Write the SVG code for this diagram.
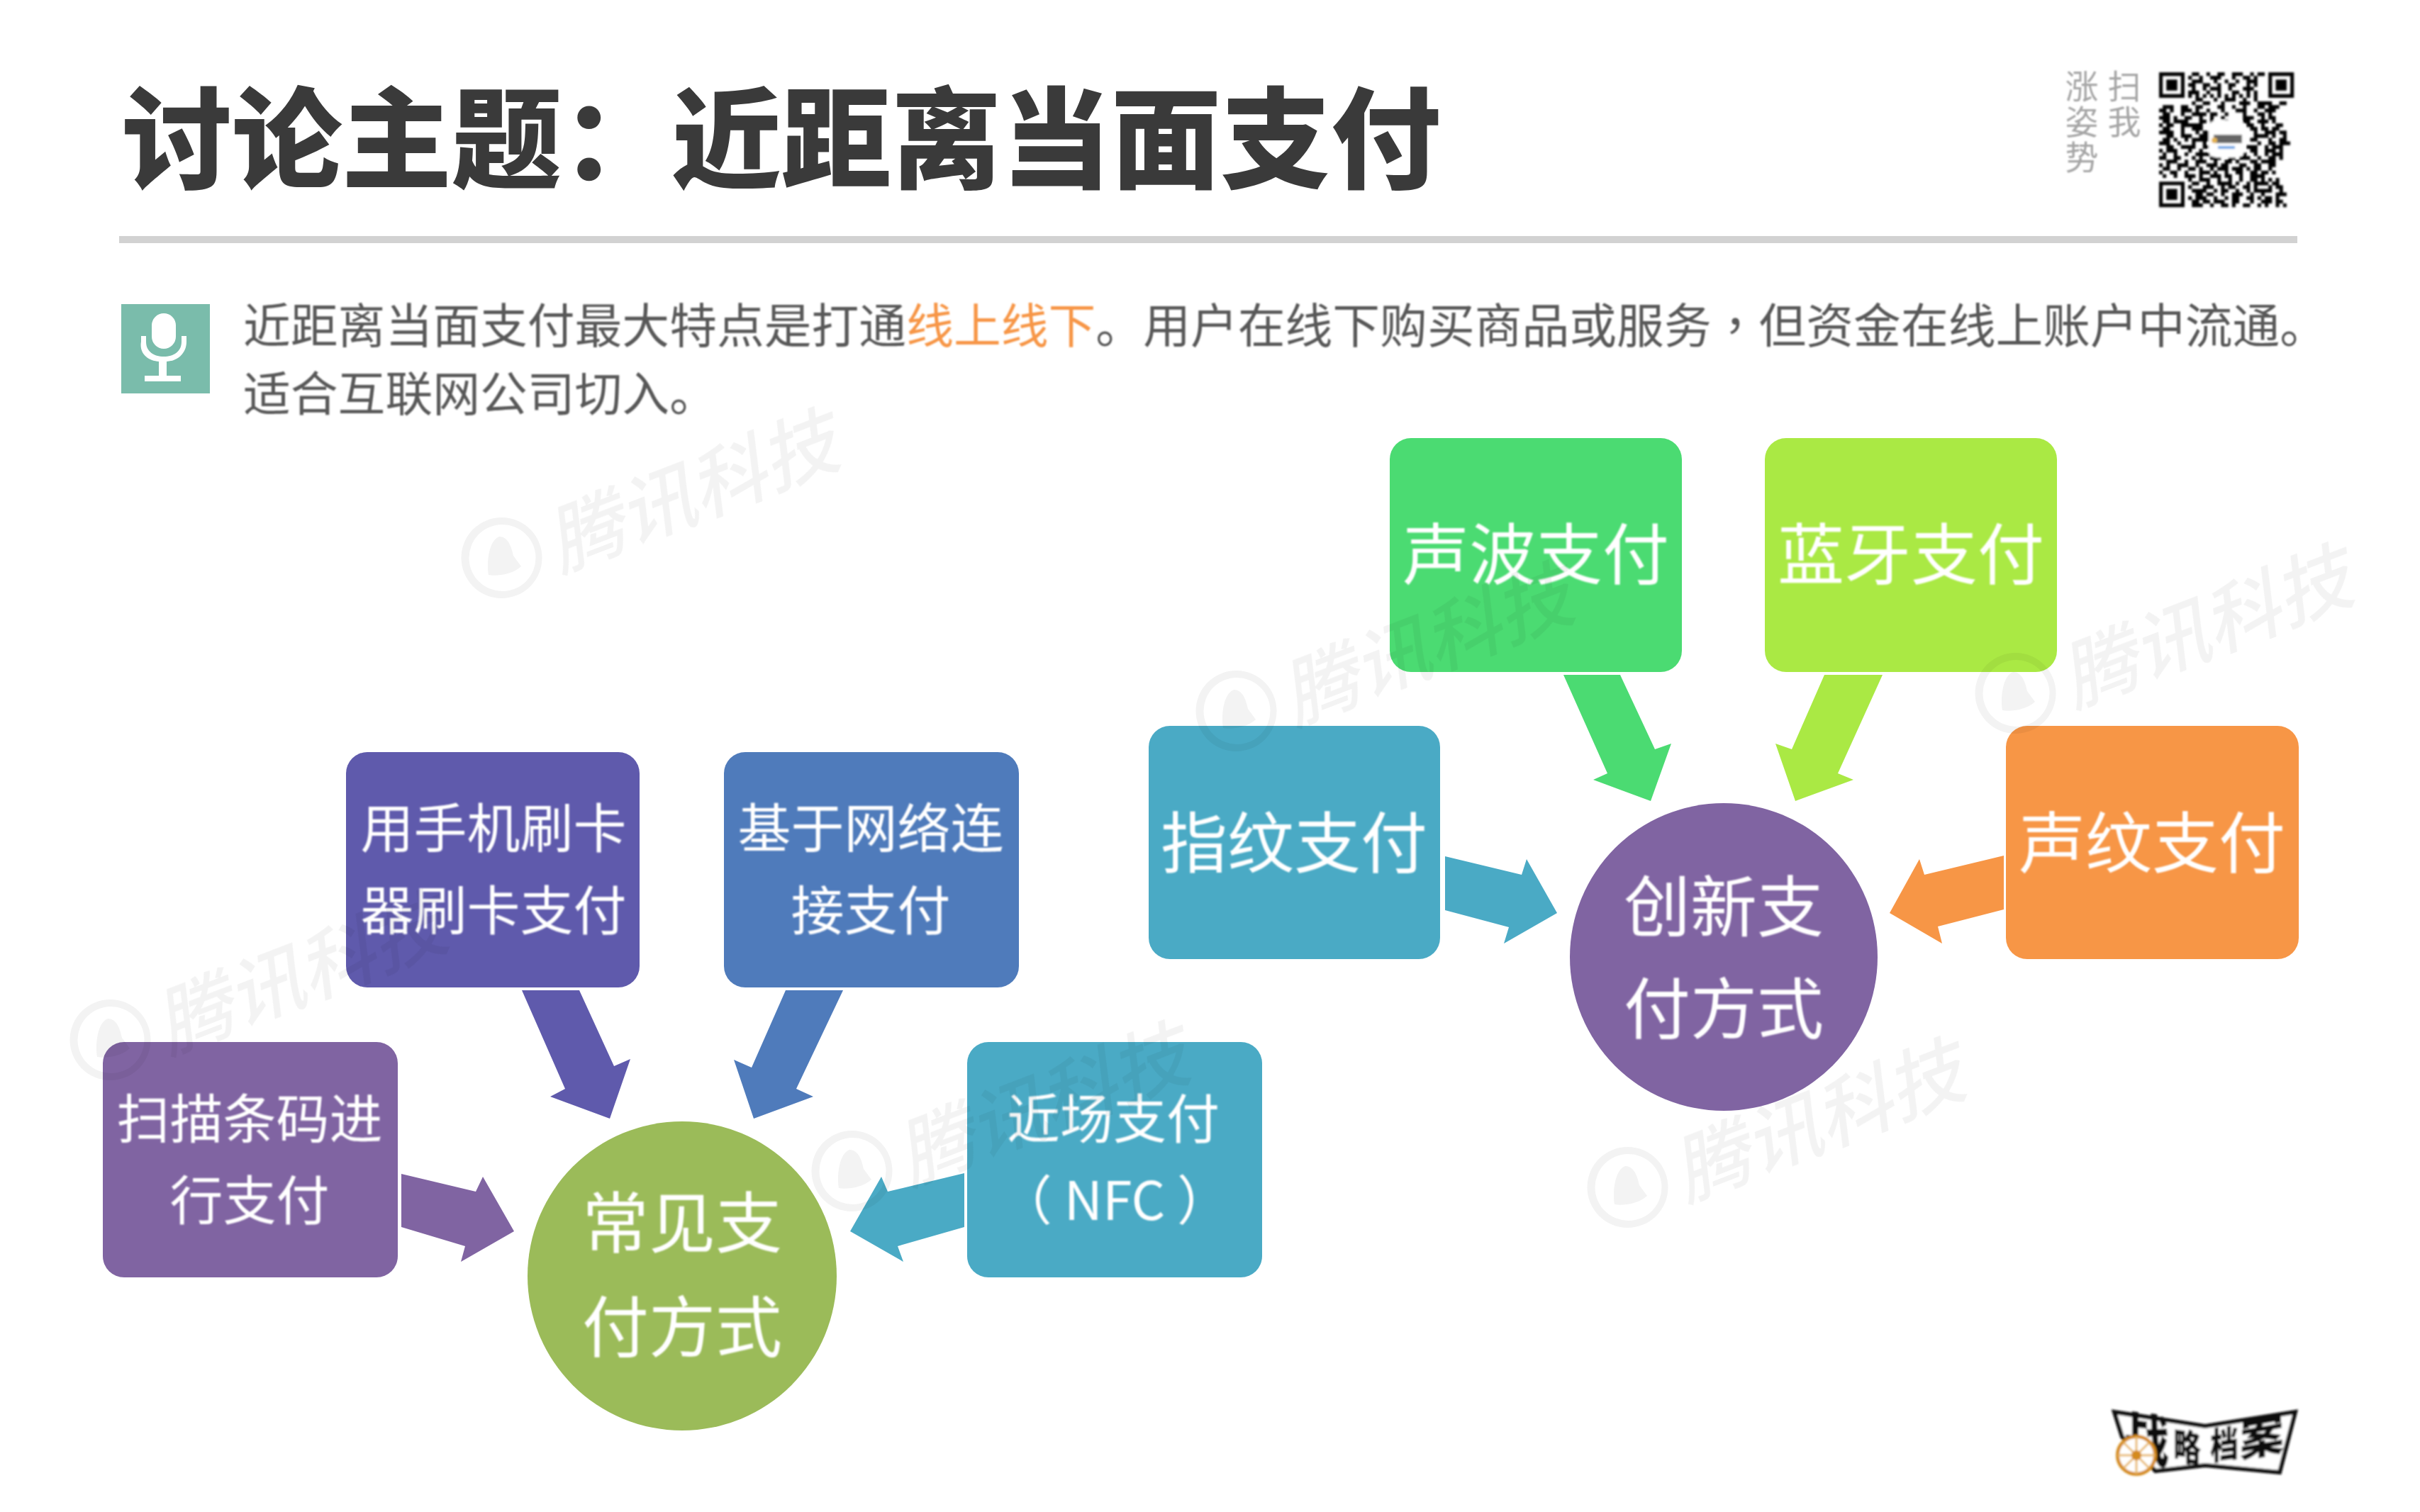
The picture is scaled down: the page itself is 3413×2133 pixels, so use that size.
<svg xmlns="http://www.w3.org/2000/svg" width="3413" height="2133" viewBox="0 0 3413 2133">
<defs>
<style>
text{font-family:"Noto Sans CJK SC","Noto Sans",sans-serif}
.t{fill:#fff;text-anchor:middle;font-size:75px;filter:url(#b)}
.l{fill:#fff;text-anchor:middle;font-size:94px;filter:url(#b)}
.wm{fill:#000;font-size:107px;font-style:italic;font-weight:500}
.body{fill:#595959;font-size:66.8px;filter:url(#b)}
.scan{fill:#a6a6a6;font-size:47px;writing-mode:vertical-rl;letter-spacing:3px;filter:url(#b)}
.logo{fill:#111;font-weight:900}
</style>
<filter id="b" x="-5%" y="-10%" width="110%" height="120%"><feGaussianBlur stdDeviation="0.9"/></filter>
<filter id="q" x="-5%" y="-5%" width="110%" height="110%"><feGaussianBlur stdDeviation="1.4"/></filter>
<g id="wmk">
<path fill-rule="evenodd" d="M0-57A57 57 0 1 1-1 57A57 57 0 1 1 0-57ZM0-47A47 47 0 1 0 1 47A47 47 0 1 0 0-47Z"/>
<path d="M-4-30C10-30 14-12 16-3L27 12C14 24-8 26-19 24C-22 4-18-25-4-30Z"/>
<text class="wm" transform="translate(82 20) rotate(-21)">腾讯科技</text>
</g>
</defs>
<rect width="3413" height="2133" fill="#fff"/>

<g id="title"><text x="172" y="253" font-size="155" font-weight="900" fill="#3a3a3a">讨论主题：近距离当面支付</text></g>
<rect id="rule" x="168" y="333" width="3072" height="10" fill="#d2d2d2"/>

<g id="scan-text">
<text class="scan" x="2936" y="98">涨姿势</text>
<text class="scan" x="2996" y="98">扫我</text>
</g>

<g id="qr" filter="url(#q)">
<g transform="translate(3045 102) scale(5.14)">
<path fill="#000" fill-rule="evenodd" d="M0 0h7v7H0ZM1 1v5h5V1ZM2 2h3v3H2ZM30 0h7v7h-7ZM31 1v5h5V1ZM32 2h3v3h-3ZM0 30h7v7H0ZM1 31v5h5v-5ZM2 32h3v3H2Z"/>
<path stroke="#000" stroke-width="1.02" fill="none" d="M9 .5h2m2 0h1m2 0h2m2 0h3m2 0h1m1 0h2M8 1.5h1m2 0h1m2 0h3m3 0h1m2 0h2m1 0h1M9 2.5h3m3 0h1m2 0h1m2 0h1m2 0h3M8 3.5h2m2 0h2m2 0h1m2 0h2m3 0h1m1 0h1M9 4.5h1m2 0h1m1 0h3m2 0h1m3 0h3M8 5.5h3m2 0h1m2 0h1m3 0h2m2 0h1m1 0h1M8 6.5h1m1 0h1m1 0h1m1 0h1m1 0h1m1 0h1m1 0h1m1 0h1m1 0h1m1 0h1M10 7.5h2m3 0h1m2 0h3m2 0h1m2 0h1M9 8.5h1m2 0h2m3 0h1m4 0h3m2 0h4m2 0h2M1 9.5h3m2 0h2m2 0h2m4 0h2m2 0h1m2 0h1m3 0h2m1 0h3M0 10.5h2m1 0h1m2 0h3m1 0h1m2 0h1m3 0h1m3 0h3m2 0h1m2 0h3M1 11.5h2m3 0h1m2 0h4m1 0h2m2 0h1m4 0h1m3 0h2m1 0h1M0 12.5h3m1 0h1m2 0h2m2 0h1m2 0h1m2 0h1m5 0h3m2 0h1m1 0h2M1 13.5h2m1 0h4m3 0h2m1 0h1m3 0h1m4 0h2m2 0h3m1 0h1M0 14.5h1m1 0h2m2 0h6m2 0h1m9 0h2m2 0h1m3 0h2M1 15.5h2m3 0h1m2 0h3m2 0h1m10 0h2m1 0h2m1 0h2M0 16.5h4m2 0h1m3 0h1m1 0h3m11 0h1m2 0h3m1 0h2M2 17.5h2m2 0h3m2 0h3m12 0h4m1 0h1m2 0h1M1 18.5h2m1 0h1m2 0h1m1 0h5m11 0h2m3 0h1m2 0h2M0 19.5h3m2 0h1m3 0h1m2 0h1m14 0h1m2 0h2m1 0h3M2 20.5h2m2 0h4m2 0h2m10 0h3m2 0h1m1 0h3M0 21.5h1m1 0h3m3 0h1m2 0h1m2 0h1m10 0h2m2 0h3m1 0h1M1 22.5h1m2 0h1m2 0h1m2 0h4m9 0h1m2 0h1m2 0h1m1 0h3M0 23.5h2m2 0h2m3 0h1m1 0h1m2 0h3m2 0h2m1 0h3m2 0h1m2 0h2m1 0h1M2 24.5h3m2 0h1m2 0h3m2 0h1m2 0h2m1 0h1m3 0h2m1 0h4M0 25.5h1m1 0h1m2 0h3m2 0h1m2 0h3m1 0h2m3 0h2m2 0h2m2 0h2M1 26.5h2m2 0h1m2 0h2m1 0h1m2 0h1m1 0h3m1 0h3m1 0h1m1 0h2m2 0h1M0 27.5h1m2 0h2m2 0h1m3 0h3m1 0h1m2 0h1m2 0h2m2 0h2m1 0h2m1 0h1M1 28.5h1m2 0h1m2 0h3m1 0h1m2 0h3m1 0h2m2 0h1m2 0h4M8 29.5h1m2 0h3m2 0h1m2 0h1m2 0h1m2 0h2m1 0h1m1 0h1m1 0h1M9 30.5h2m2 0h1m2 0h4m1 0h1m2 0h1m1 0h4m1 0h2M8 31.5h1m3 0h3m2 0h1m1 0h2m2 0h2m1 0h1m3 0h1m1 0h2M9 32.5h4m2 0h1m1 0h2m2 0h1m2 0h1m1 0h5m2 0h1M10 33.5h2m1 0h2m2 0h1m2 0h3m2 0h1m2 0h1m3 0h3M8 34.5h1m1 0h3m2 0h1m2 0h1m1 0h2m2 0h2m1 0h1m1 0h2m1 0h1M9 35.5h2m1 0h2m1 0h3m2 0h2m3 0h1m2 0h3m1 0h2M9 36.5h3m2 0h1m2 0h2m1 0h1m2 0h2m2 0h1m1 0h1m2 0h1m1 0h1"/>
</g>
<rect x="3115" y="170" width="50" height="52" rx="10" fill="#fff"/>
<rect x="3122" y="190" width="40" height="12" fill="#666"/>
<circle cx="3123" cy="198" r="4" fill="#e3b24f"/>
<rect x="3128" y="206" width="24" height="4" fill="#6aa5e6"/>
</g>

<g id="intro">
<rect x="171" y="429" width="125" height="126" fill="#7abcab"/>
<g fill="#fff">
<rect x="214" y="442" width="34" height="50" rx="17"/>
<path d="M199 474h7v8c0 14 11 21 25 21s25-7 25-21v-8h7v8c0 17-13 27-28 28v20h20v8h-51v-8h20v-20c-15-1-28-11-25-28Z"/>
</g>
<text class="body" x="343" y="484">近距离当面支付最大特点是打通<tspan fill="#f79646">线上线下</tspan>。用户在线下购买商品或服务<tspan style="font-family:'Noto Sans CJK TC',sans-serif">，</tspan>但资金在线上账户中流通。</text>
<text class="body" x="343" y="580">适合互联网公司切入。</text>
</g>

<g id="connectors">
<polygon fill="#5f5aac" points="736,1397 817,1397 866,1504 889,1494 860,1578 776,1547 797,1536"/>
<polygon fill="#4f7bbb" points="1108,1397 1189,1397 1123,1536 1147,1547 1063,1578 1035,1495 1060,1506"/>
<polygon fill="#8064a2" points="566,1656 671,1681 681,1660 725,1737 650,1780 656,1758 566,1731"/>
<polygon fill="#4aaac5" points="1360,1655 1252,1681 1243,1660 1199,1737 1274,1780 1266,1758 1360,1731"/>
<polygon fill="#4bdb72" points="2205,952 2285,952 2334,1057 2357,1049 2328,1130 2247,1100 2267,1091"/>
<polygon fill="#aae944" points="2573,952 2655,952 2592,1091 2614,1100 2532,1130 2504,1049 2527,1057"/>
<polygon fill="#4aaac5" points="2038,1208 2146,1234 2153,1212 2196,1288 2121,1331 2128,1308 2038,1284"/>
<polygon fill="#f79646" points="2826,1207 2714,1234 2707,1212 2665,1288 2739,1331 2733,1307 2826,1283"/>
</g>

<g id="node-card"><rect x="488" y="1061" width="414" height="332" rx="30" fill="#5f5aac"/>
<text class="t" x="696" y="1196">用手机刷卡</text><text class="t" x="696" y="1312">器刷卡支付</text></g>
<g id="node-net"><rect x="1021" y="1061" width="416" height="332" rx="30" fill="#4f7bbb"/>
<text class="t" x="1228" y="1196">基于网络连</text><text class="t" x="1228" y="1312">接支付</text></g>
<g id="node-scan"><rect x="145" y="1470" width="416" height="332" rx="30" fill="#8064a2"/>
<text class="t" x="352" y="1606">扫描条码进</text><text class="t" x="352" y="1721">行支付</text></g>
<g id="node-nfc"><rect x="1364" y="1470" width="416" height="332" rx="30" fill="#4aaac5"/>
<text class="t" x="1570" y="1606">近场支付</text><text class="t" x="1572" y="1721">（ NFC ）</text></g>
<g id="node-common"><circle cx="962" cy="1800" r="218" fill="#9bbb59"/>
<text class="l" x="962" y="1760">常见支</text><text class="l" x="962" y="1907">付方式</text></g>

<g id="node-wave"><rect x="1960" y="618" width="412" height="330" rx="30" fill="#4bdb72"/>
<text class="t" style="font-size:94px" x="2166" y="817">声波支付</text></g>
<g id="node-bt"><rect x="2489" y="618" width="412" height="330" rx="30" fill="#aae944"/>
<text class="t" style="font-size:94px" x="2695" y="817">蓝牙支付</text></g>
<g id="node-finger"><rect x="1620" y="1024" width="411" height="329" rx="30" fill="#4aaac5"/>
<text class="t" style="font-size:94px" x="1825" y="1224">指纹支付</text></g>
<g id="node-voice"><rect x="2829" y="1024" width="413" height="329" rx="30" fill="#f79646"/>
<text class="t" style="font-size:94px" x="3035" y="1224">声纹支付</text></g>
<g id="node-new"><circle cx="2431" cy="1350" r="217" fill="#8064a2"/>
<text class="l" x="2431" y="1314">创新支</text><text class="l" x="2431" y="1458">付方式</text></g>

<g id="watermarks" opacity="0.05">
<use href="#wmk" x="708" y="787"/>
<use href="#wmk" x="1744" y="1003"/>
<use href="#wmk" x="2843" y="978"/>
<use href="#wmk" x="2296" y="1675"/>
<use href="#wmk" x="156" y="1467"/>
<use href="#wmk" x="1202" y="1652"/>
</g>

<g id="brand" filter="url(#q)">
<path fill="#fff" stroke="#111" stroke-width="6" d="M2982 1992L3110 2012L3237 1992L3215 2077L3110 2067L3040 2075L2993 2027Z"/>
<text class="logo" font-size="72" transform="translate(2994 2056) scale(.9 1.1) skewY(6)">战</text>
<text class="logo" font-size="50" transform="translate(3065 2058) scale(.78 1.05) skewY(6)">略</text>
<text class="logo" font-size="50" transform="translate(3117 2060) scale(.8 1.05) skewY(-6)">档</text>
<text class="logo" font-size="62" transform="translate(3159 2056) skewY(-10)">案</text>
<circle cx="3013" cy="2053" r="26.5" fill="#fff" stroke="#d48a1a" stroke-width="5"/>
<path stroke="#e8b868" stroke-width="3" fill="none" d="M2987 2053h52M3013 2027v52M2995 2035l36 36M3031 2035l-36 36"/>
<circle cx="3013" cy="2053" r="7" fill="#d48a1a"/>
</g>
</svg>
